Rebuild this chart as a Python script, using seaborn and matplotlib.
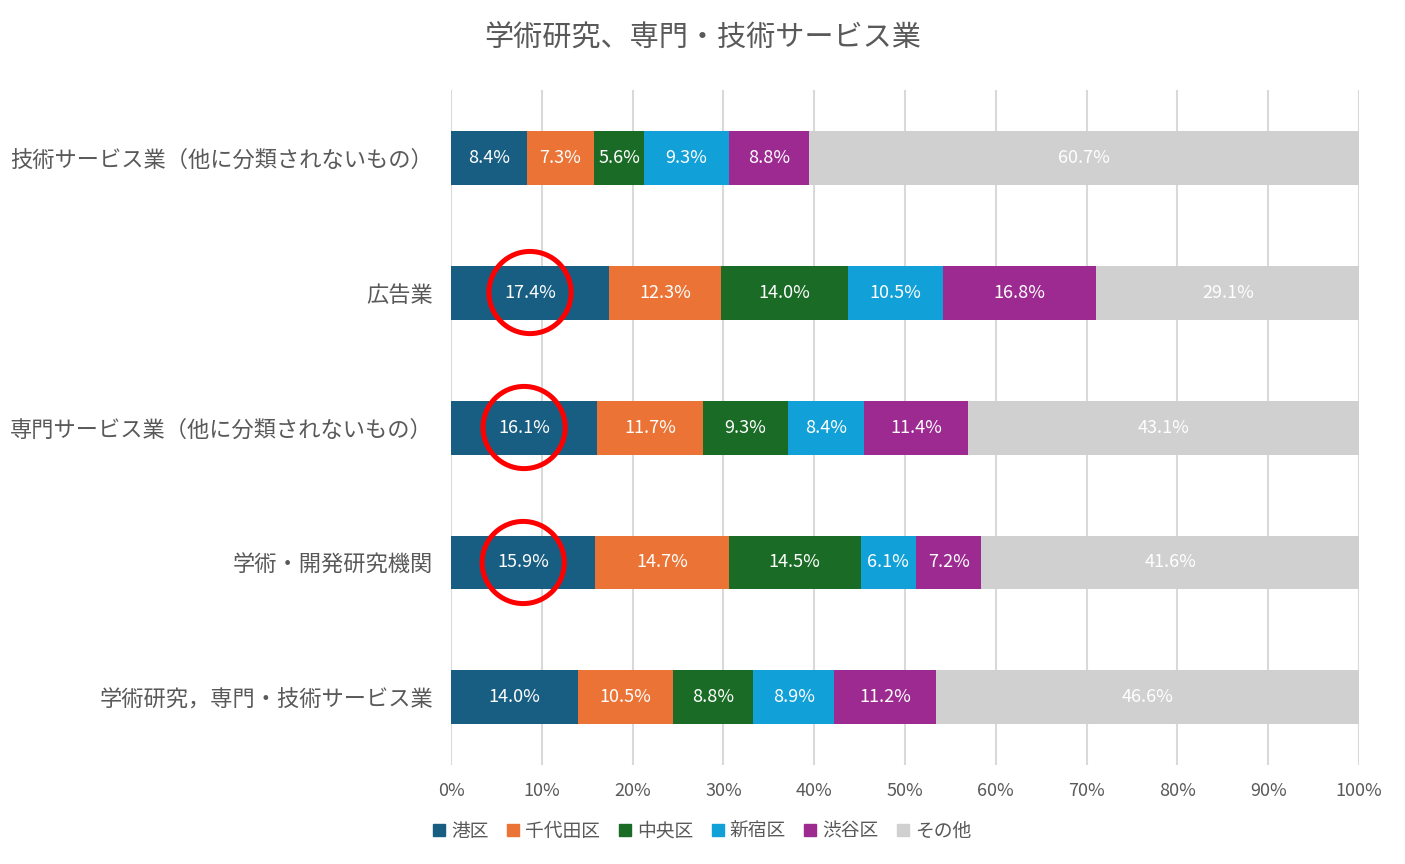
import pandas as pd
import seaborn as sns
from matplotlib import pyplot as plt
from matplotlib.lines import Line2D

# --- data -------------------------------------------------------------
industries = [
    "技術サービス業（他に分類されないもの）",
    "広告業",
    "専門サービス業（他に分類されないもの）",
    "学術・開発研究機関",
    "学術研究，専門・技術サービス業",
]
wards = ["港区", "千代田区", "中央区", "新宿区", "渋谷区", "その他"]
minato = [8.4, 17.4, 16.1, 15.9, 14.0]
chiyoda = [7.3, 12.3, 11.7, 14.7, 10.5]
chuo = [5.6, 14.0, 9.3, 14.5, 8.8]
shinjuku = [9.3, 10.5, 8.4, 6.1, 8.9]
shibuya = [8.8, 16.8, 11.4, 7.2, 11.2]
others = [60.7, 29.1, 43.1, 41.6, 46.6]
highlighted = ["広告業", "専門サービス業（他に分類されないもの）", "学術・開発研究機関"]
title = "学術研究、専門・技術サービス業"

colors = ["#175E82", "#EB7335", "#1A6B25", "#11A0D7", "#9D2A90", "#D0D0D0"]
TEXT = "#595959"

sns.set_style("white")
plt.rcParams['font.family'] = ['Noto Sans CJK JP', 'DejaVu Sans']

df = pd.DataFrame(
    dict(zip(wards, [minato, chiyoda, chuo, shinjuku, shibuya, others])),
    index=industries)
cum = df.cumsum(axis=1)

fig = plt.figure(figsize=(14.05, 8.64), dpi=100)
ax = fig.add_axes([0.321, 0.1146, 0.6463, 0.7812])

# draw cumulative totals from the widest down so each segment shows
for ward, color in reversed(list(zip(wards, colors))):
    sns.barplot(x=cum[ward].values, y=industries, orient="h",
                color=color, width=0.4, saturation=1, linewidth=0,
                ax=ax, zorder=2)

for i, ind in enumerate(industries):
    for ward in wards:
        v = df.loc[ind, ward]
        c = cum.loc[ind, ward] - v / 2
        ax.text(c, i, f"{v:.1f}%", ha="center", va="center",
                color="white", fontsize=13, zorder=4)

hx = [df.loc[h, "港区"] / 2 for h in highlighted]
hy = [industries.index(h) for h in highlighted]
ax.scatter(hx, hy, s=3500, facecolors="none", edgecolors="#FF0000",
           linewidths=3.6, zorder=5, clip_on=False)

ax.set_xlim(0, 100)
ax.set_ylim(4.5, -0.5)
ax.set_xticks(range(0, 101, 10))
ax.set_xticklabels([f"{t}%" for t in range(0, 101, 10)])
ax.xaxis.grid(True, color="#D9D9D9", linewidth=1.5, zorder=0)
ax.set_axisbelow(True)
for s in ax.spines.values():
    s.set_visible(False)
ax.tick_params(axis="x", length=0, pad=12, labelsize=13, labelcolor=TEXT)
ax.tick_params(axis="y", length=0, pad=13, labelsize=16, labelcolor=TEXT)
ax.set_xlabel("")
ax.set_ylabel("")

fig.suptitle(title, x=0.5, y=0.972, fontsize=21, color=TEXT)

handles = [Line2D([], [], marker="s", linestyle="none", markersize=8,
                  markerfacecolor=c, markeredgecolor=c) for c in colors]
fig.legend(handles, wards, loc="center", bbox_to_anchor=(0.5, 0.038),
           ncol=6, frameon=False, fontsize=13.5, labelcolor=TEXT,
           handlelength=0.6, handletextpad=0.35, columnspacing=1.0)

plt.savefig("out.png", dpi=100)
